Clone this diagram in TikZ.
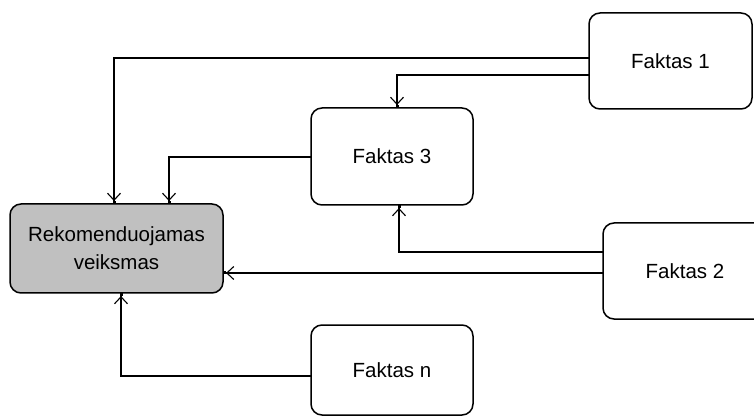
\documentclass[tikz,border=0pt]{standalone}
\usepackage{fontspec}
\setmainfont{Liberation Sans}
\usetikzlibrary{arrows.meta}
\definecolor{boxgray}{HTML}{C0C0C0}
\begin{document}
\begin{tikzpicture}[x=1pt,y=-1pt,
  fact/.style={draw, line width=1.5pt, rounded corners=11pt, outer sep=0pt,
    font=\fontsize{20.5}{28}\selectfont, align=center, inner sep=0pt},
  arr/.style={line width=1.5pt,
    -{Straight Barb[length=7pt,width=13pt,line width=1.1pt]Square[length=3pt,width=3pt]}}]
\clip (0,0) rectangle (754,419);
\fill[white] (0,0) rectangle (754,419);

% boxes
\node[fact, fill=boxgray, minimum width=213pt, minimum height=89pt] (rek) at (116.5,248.5)
  {Rekomenduojamas\\veiksmas};
\node[fact, fill=white, minimum width=163pt, minimum height=96pt] (f1) at (670.5,61) {Faktas 1};
\node[fact, fill=white, minimum width=162pt, minimum height=97pt] (f3) at (392,156.5) {Faktas 3};
\node[fact, fill=white, minimum width=164pt, minimum height=96pt] (f2) at (685,271) {Faktas 2};
\node[fact, fill=white, minimum width=162pt, minimum height=90pt] (fn) at (392,370)
  {\raisebox{-5pt}{Faktas n}};

% connectors
\draw[arr] (f1.west |- 0,58) -| (rek.north -| 114,0);
\draw[arr] (f1.west |- 0,75) -| (f3.north -| 397,0);
\draw[arr] (f3.west |- 0,157) -| (rek.north -| 169,0);
\draw[arr] (f2.west |- 0,252) -| (f3.south -| 399,0);
\draw[arr] (f2.west |- 0,273) -- (rek.east |- 0,273);
\draw[arr] (fn.west |- 0,376) -| (rek.south -| 121,0);
\end{tikzpicture}
\end{document}
